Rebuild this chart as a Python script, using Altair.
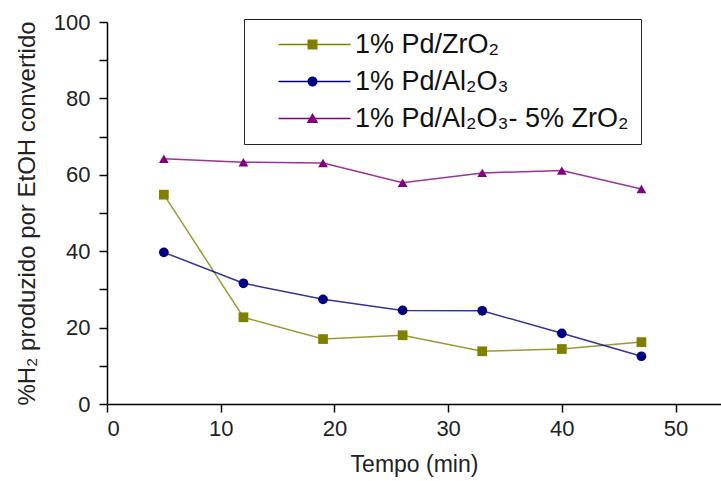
import altair as alt
import pandas as pd

# ---- data ----
time_min = [5, 12, 19, 26, 33, 40, 47]
series_names = ["1% Pd/ZrO₂", "1% Pd/Al₂O₃", "1% Pd/Al₂O₃- 5% ZrO₂"]
h2_zro2 = [54.8, 22.7, 17.0, 18.0, 13.8, 14.4, 16.2]
h2_al2o3 = [39.7, 31.6, 27.4, 24.5, 24.4, 18.5, 12.5]
h2_al2o3_zro2 = [64.2, 63.3, 63.1, 57.9, 60.5, 61.1, 56.3]
x_ticks = [0, 10, 20, 30, 40, 50]
y_ticks = [0, 10, 20, 30, 40, 50, 60, 70, 80, 90, 100]

# ---- styles ----
colors = ["#808000", "#000080", "#800080"]
markers = ["square", "circle", "triangle-up"]
# legend symbols: a line segment with the marker in the middle
legend_paths = [
    "M0.9,-0.07H8.1V0.07H0.9Z M3.8,-0.5H4.8V0.5H3.8Z",
    "M0.9,-0.07H8.1V0.07H0.9Z M3.8,0A0.5,0.5 0 1,1 4.8,0A0.5,0.5 0 1,1 3.8,0Z",
    "M0.9,-0.07H8.1V0.07H0.9Z M4.3,-0.55L4.88,0.45L3.72,0.45Z",
]

rows = []
for name, vals, mk in zip(series_names, [h2_zro2, h2_al2o3, h2_al2o3_zro2], markers):
    for t, v in zip(time_min, vals):
        rows.append({"t": t, "v": v, "series": name, "marker": mk})
df = pd.DataFrame(rows)

FONT = "Liberation Sans"

x_scale = alt.Scale(domain=[0, 54], nice=False, zero=False)
y_scale = alt.Scale(domain=[0, 100], nice=False)

x_enc = alt.X(
    "t:Q", scale=x_scale,
    axis=alt.Axis(values=x_ticks, grid=False, tickSize=8, labelPadding=6,
                  title="Tempo (min)", titlePadding=14, titleFontSize=23, format="d"),
)
y_enc = alt.Y(
    "v:Q", scale=y_scale,
    axis=alt.Axis(values=y_ticks, grid=False, tickSize=8, labelPadding=9,
                  labelExpr="datum.value % 20 == 0 ? datum.label : ''",
                  title="%H₂ produzido por EtOH convertido", titlePadding=14,
                  titleFontSize=24),
)


def cscale():
    return alt.Scale(domain=series_names, range=colors)


lines = alt.Chart(df).mark_line(strokeWidth=1.5, opacity=0.8).encode(
    x=x_enc, y=y_enc,
    color=alt.Color("series:N", scale=cscale(), legend=None),
    detail="series:N",
)

points = alt.Chart(df).mark_point(filled=True, opacity=1, size=95).encode(
    x=x_enc, y=y_enc,
    color=alt.Color("series:N", scale=cscale(), legend=None),
    shape=alt.Shape("marker:N", scale=None),
)

legend_props = dict(
    title=None, orient="none", legendX=137, legendY=-3,
    symbolSize=400, symbolStrokeWidth=0, labelOffset=72,
    labelFontSize=27, labelFont=FONT, labelColor="#111",
    rowPadding=9, padding=12, strokeColor="#222", labelLimit=500,
    labelExpr="datum.label + '   '",
)

legend_layer = alt.Chart(df).transform_filter("false").mark_point(
    filled=True, opacity=1, size=400
).encode(
    color=alt.Color("series:N", scale=cscale(), legend=alt.Legend(**legend_props)),
    shape=alt.Shape(
        "series:N", scale=alt.Scale(domain=series_names, range=legend_paths),
        legend=alt.Legend(**legend_props),
    ),
)

chart = (
    alt.layer(lines, points, legend_layer)
    .resolve_scale(shape="independent", color="independent")
    .properties(
        width=614, height=382,
        autosize=alt.AutoSizeParams(type="none"),
        padding={"left": 107, "top": 22, "right": 0, "bottom": 77},
    )
    .configure_view(stroke=None)
    .configure_axis(
        domainColor="black", domainWidth=1.5, tickColor="black", tickWidth=1.5,
        labelFont=FONT, labelFontSize=22, labelColor="#222",
        titleFont=FONT, titleFontSize=23, titleFontWeight="normal", titleColor="#222",
    )
)

chart.save("out.html", embed_options={"renderer": "svg", "actions": False})
